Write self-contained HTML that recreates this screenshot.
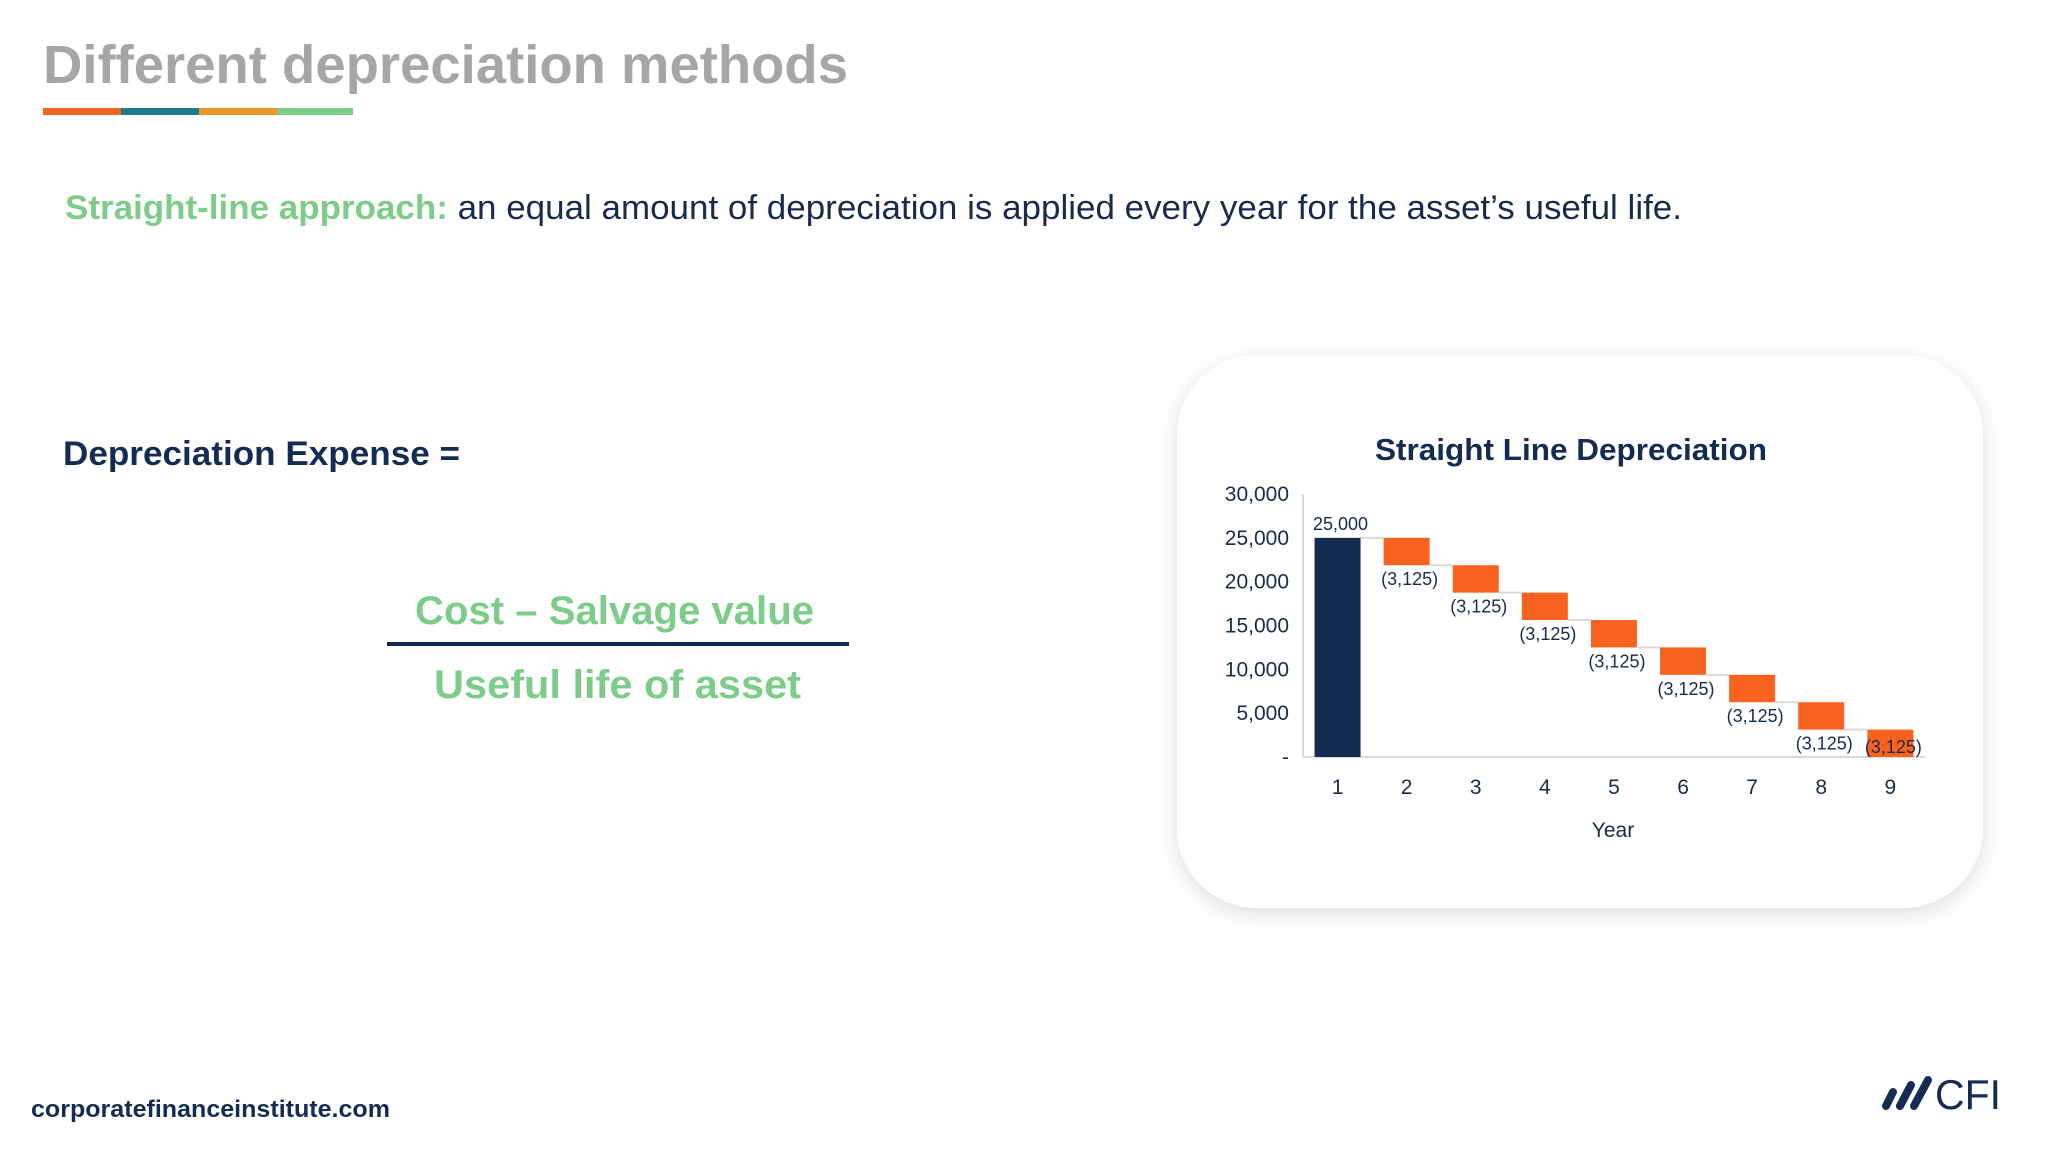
<!DOCTYPE html>
<html><head><meta charset="utf-8"><style>
html,body{margin:0;padding:0;background:#fff;}
svg{display:block;font-family:"Liberation Sans",sans-serif;}
</style></head><body>
<svg width="2048" height="1152" viewBox="0 0 2048 1152">
<defs>
<filter id="sh" x="-10%" y="-10%" width="120%" height="125%"><feDropShadow dx="0" dy="6" stdDeviation="10" flood-color="#000" flood-opacity="0.13"/></filter>
</defs>
<text x="43" y="83" font-size="54" font-weight="bold" fill="#a6a6a6" textLength="805" lengthAdjust="spacingAndGlyphs">Different depreciation methods</text>
<g>
<rect x="43" y="108" width="78" height="7" fill="#f26522"/>
<rect x="121" y="108" width="78" height="7" fill="#1c7c8c"/>
<rect x="199" y="108" width="78" height="7" fill="#e8962a"/>
<rect x="277" y="108" width="76" height="7" fill="#7dcc8a"/>
</g>
<text x="65" y="219" font-size="34" fill="#1a2a4a" textLength="1617" lengthAdjust="spacingAndGlyphs"><tspan font-weight="bold" fill="#7dcc8a">Straight-line approach:</tspan> an equal amount of depreciation is applied every year for the asset’s useful life.</text>
<text x="63" y="465" font-size="34" font-weight="bold" fill="#152c52" textLength="397" lengthAdjust="spacingAndGlyphs">Depreciation Expense =</text>
<text x="415" y="624" font-size="40" font-weight="bold" fill="#7dcc8a" textLength="399" lengthAdjust="spacingAndGlyphs">Cost – Salvage value</text>
<rect x="387" y="642" width="462" height="4" fill="#152c52"/>
<text x="434" y="698" font-size="40" font-weight="bold" fill="#7dcc8a" textLength="367" lengthAdjust="spacingAndGlyphs">Useful life of asset</text>
<rect x="1177" y="355" width="806" height="553" rx="80" fill="#fff" filter="url(#sh)"/>
<text x="1571" y="460" font-size="31" font-weight="bold" fill="#152c52" text-anchor="middle" textLength="392" lengthAdjust="spacingAndGlyphs">Straight Line Depreciation</text>
<g id="chart"></g>
<text x="1613" y="837" font-size="21" fill="#1a2a4a" text-anchor="middle">Year</text>
<text x="31" y="1117" font-size="24" font-weight="bold" fill="#152c52" textLength="359" lengthAdjust="spacingAndGlyphs">corporatefinanceinstitute.com</text>
<g fill="#152c52">
<line x1="1886" y1="1106" x2="1893" y2="1092" stroke="#152c52" stroke-width="8" stroke-linecap="round"/>
<line x1="1900" y1="1106" x2="1911" y2="1085" stroke="#152c52" stroke-width="8" stroke-linecap="round"/>
<line x1="1914" y1="1106" x2="1928" y2="1080" stroke="#152c52" stroke-width="8" stroke-linecap="round"/>
<text x="1935" y="1109" font-size="42" fill="#152c52" textLength="66" lengthAdjust="spacingAndGlyphs">CFI</text>
</g>
</svg>
<script>
const years = ["1","2","3","4","5","6","7","8","9"];
const startValue = 25000;
const changes = [-3125,-3125,-3125,-3125,-3125,-3125,-3125,-3125];
const yTicks = [0,5000,10000,15000,20000,25000,30000];
const yTickLabels = ["-","5,000","10,000","15,000","20,000","25,000","30,000"];
const startLabel = "25,000";
const changeLabels = ["(3,125)","(3,125)","(3,125)","(3,125)","(3,125)","(3,125)","(3,125)","(3,125)"];

const NS="http://www.w3.org/2000/svg";
const g=document.getElementById('chart');
const x0=1303, band=69.1, y0=757, yMax=30000, yTop=494;
const yS=v=>y0-(v/yMax)*(y0-yTop);
const xC=i=>x0+band*(i+0.5);
const bw=46;
function mk(t,a){const e=document.createElementNS(NS,t);for(const k in a)e.setAttribute(k,a[k]);g.appendChild(e);return e;}
let ax=mk('line',{x1:x0,y1:yTop,x2:x0,y2:y0,stroke:'#d9d9d9','stroke-width':2});


let bx=mk('line',{x1:x0,y1:y0,x2:x0+band*years.length,y2:y0,stroke:'#d9d9d9','stroke-width':2});


yTicks.forEach((v,i)=>{
 const t=mk('text',{x:1289,y:yS(v)+7,'font-size':21,fill:'#1a2a4a','text-anchor':'end'});
 t.textContent=yTickLabels[i];
 
 
});
years.forEach((y,i)=>{
 const t=mk('text',{x:xC(i),y:794,'font-size':21,fill:'#1a2a4a','text-anchor':'middle'});
 t.textContent=y;
 
 
});
let r=mk('rect',{x:xC(0)-bw/2,y:yS(startValue),width:bw,height:y0-yS(startValue),fill:'#152c52'});


let sl=mk('text',{x:xC(0)+3,y:yS(startValue)-8,'font-size':18,fill:'#1a2a4a','text-anchor':'middle'});
sl.textContent=startLabel;


let cur=startValue;
changes.forEach((c,i)=>{
 const idx=i+1, nv=cur+c;
 const top=yS(Math.max(cur,nv)), bot=yS(Math.min(cur,nv));
 const cn=mk('line',{x1:xC(idx-1)+bw/2,y1:yS(cur),x2:xC(idx)-bw/2,y2:yS(cur),stroke:'#d9d9d9','stroke-width':2});
 
 
 const b=mk('rect',{x:xC(idx)-bw/2,y:top,width:bw,height:bot-top,fill:'#f9621f'});
 
 
 const ly=Math.min(bot+20,y0-4);
 const t=mk('text',{x:xC(idx)+3,y:ly,'font-size':18,fill:'#1a2a4a','text-anchor':'middle'});
 t.textContent=changeLabels[i];
 
 
 cur=nv;
});
</script>
</body></html>
